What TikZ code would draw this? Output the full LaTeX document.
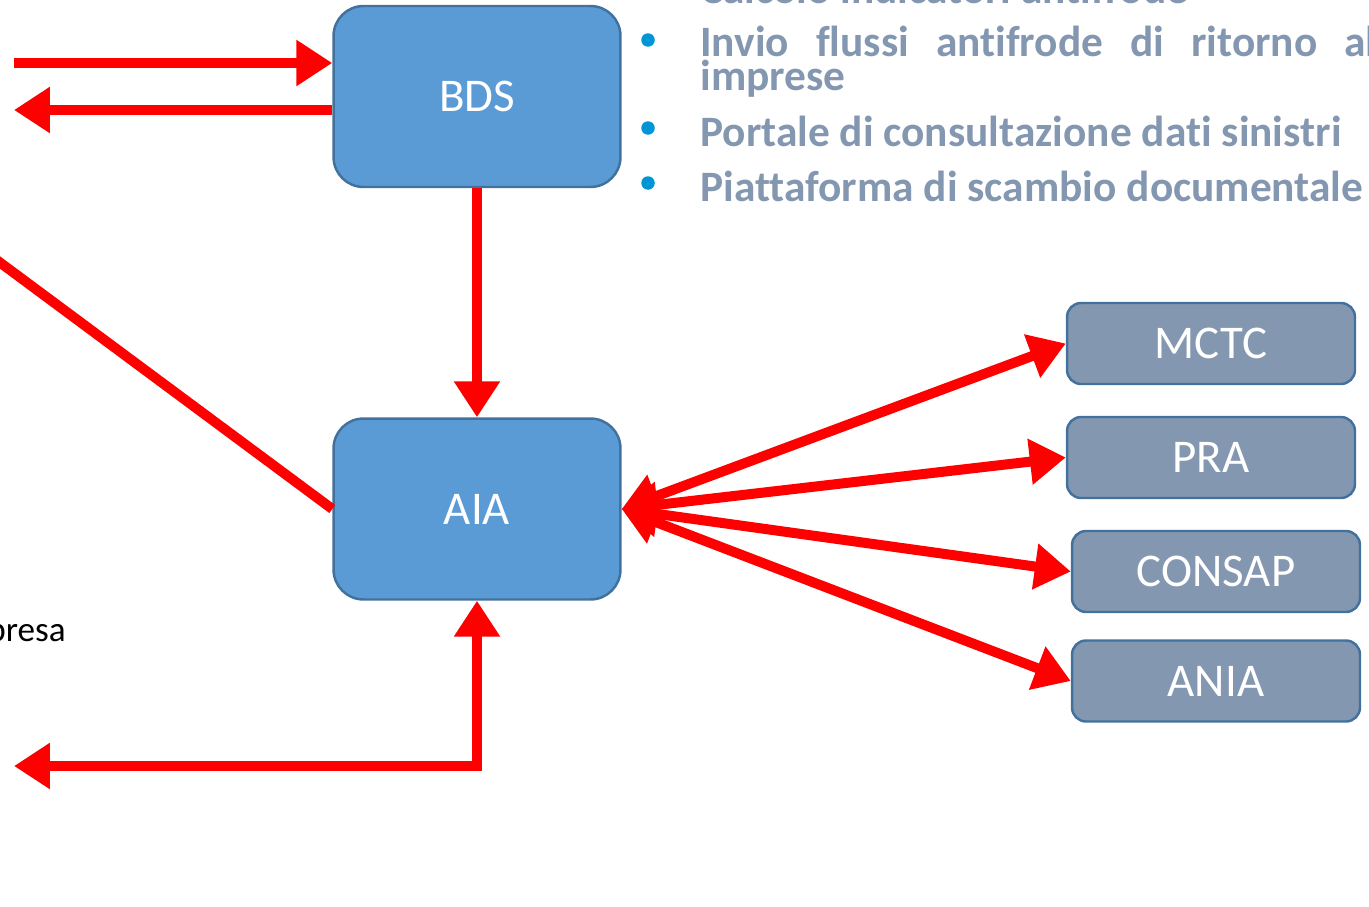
\documentclass[tikz,border=0pt]{standalone}
\usepackage{fontspec}
\setmainfont{Carlito}[Ligatures=NoCommon]
\usetikzlibrary{arrows.meta}
\definecolor{boxblue}{HTML}{5B9BD5}
\definecolor{boxline}{HTML}{41719C}
\definecolor{boxgray}{HTML}{8497B0}
\definecolor{dotblue}{HTML}{0096D6}
\begin{document}
\begin{tikzpicture}[x=0.02cm,y=-0.02cm,
  bigbox/.style={draw=boxline, line width=1.4pt, fill=boxblue,
    rounded corners=0.6cm, minimum width=5.74cm, minimum height=3.62cm,
    text=white, font=\fontsize{26.7pt}{30pt}\selectfont},
  smallbox/.style={draw=boxline, line width=1.4pt, fill=boxgray,
    rounded corners=0.28cm, minimum width=5.76cm, minimum height=1.62cm,
    text=white, font=\fontsize{26.7pt}{30pt}\selectfont},
  redline/.style={draw=red, line width=0.2cm},
  tip/.tip={Triangle[length=0.72cm, width=0.88cm]},
  listtext/.style={anchor=base west, inner sep=0, text=boxgray,
    font=\bfseries\fontsize{24.7pt}{27pt}\selectfont}]
\useasboundingbox (0,0) rectangle (1369,906);
% Blue boxes
\node[bigbox] (bds) at (477,96.5) {BDS};
\node[bigbox] (aia) at (477,509) {AIA};
% Gray boxes
\node[smallbox] (mctc) at (1211,343.5) {MCTC};
\node[smallbox] (pra) at (1211,457.5) {PRA};
\node[smallbox] (consap) at (1216,571.5) {CONSAP};
\node[smallbox] (ania) at (1216,681) {ANIA};
% Free ends on the left
\coordinate (in1) at (14,63);
\coordinate (out1) at (14,110);
\coordinate (diag) at (-60,218);
\coordinate (out2) at (14,766);
% Arrows into and out of BDS
\draw[redline,-tip] (in1) -- (in1 -| bds.west);
\draw[redline,-tip] (out1 -| bds.west) -- (out1);
\draw[redline,-tip] (bds.south) -- (aia.north);
% Arrows around AIA
\draw[redline] (diag) -- (aia.west);
\draw[redline,tip-tip] (aia.south) |- (out2);
\draw[redline,tip-tip] (aia.east) -- (mctc.west);
\draw[redline,tip-tip] (aia.east) -- (pra.west);
\draw[redline,tip-tip] (aia.east) -- (consap.west);
\draw[redline,tip-tip] (aia.east) -- (ania.west);
% List on the top right
\node[listtext] (calc) at (700,4) {Calcolo indicatori antifrode};
\node[listtext] (invio) at (700,56)
  {\makebox[13.52cm][s]{Invio\hfill flussi\hfill antifrode\hfill di\hfill ritorno\hfill al}};
\node[listtext] (imprese) at (700,90) {imprese};
\node[listtext] (portale) at (700,146) {Portale di consultazione dati sinistri};
\node[listtext] (piatt) at (700,201) {Piattaforma di scambio documentale};
\fill[dotblue] (648,40) circle[radius=0.135cm];
\fill[dotblue] (648,128) circle[radius=0.135cm];
\fill[dotblue] (648,183) circle[radius=0.135cm];
% Cut label
\node[anchor=base east, inner sep=0, font=\fontsize{20pt}{24pt}\selectfont]
  (presa) at (66,641) {presa};
\end{tikzpicture}
\end{document}
